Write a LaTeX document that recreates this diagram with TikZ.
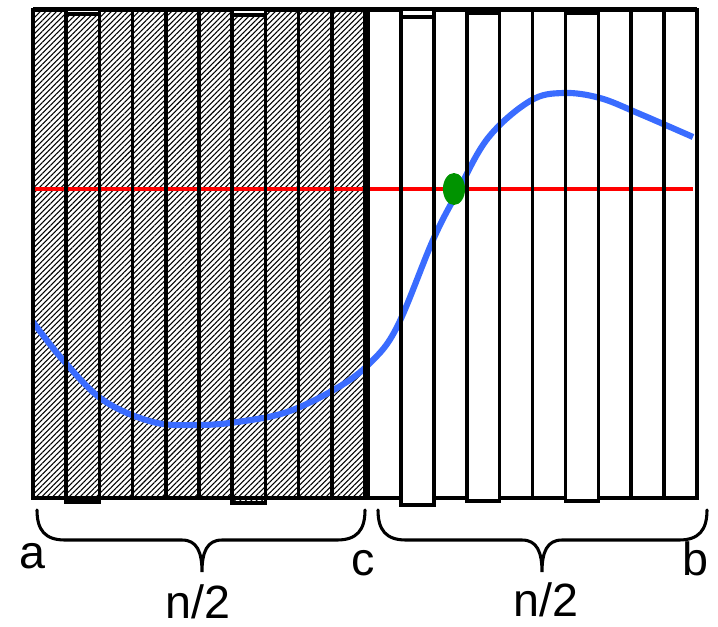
\documentclass[tikz,border=0pt]{standalone}
\usepackage{fontspec}
\setmainfont{Liberation Sans}
\usetikzlibrary{patterns.meta}
\definecolor{curve}{HTML}{3A6CFF}
\definecolor{root}{HTML}{009300}

\begin{document}
\begin{tikzpicture}[x=0.75pt,y=-0.75pt,line cap=butt,line join=miter]
  \useasboundingbox (0,0) rectangle (718,626);
  \tikzset{strip/.style={draw=black,line width=2.7pt},
    hatch/.style={pattern={Lines[angle=45,distance=2.9pt,line width=0.8pt]}},
    brace/.style={draw=black,line width=2.3pt,line cap=round},
    lbl/.style={font=\fontsize{35}{40}\selectfont,inner sep=0pt,anchor=base}}

  % Hatched half a..c: pattern first, outlines later.
  \foreach \i/\dy in {0/0,1/4,2/0,3/0,4/0,5/0,6/5,7/0,8/0,9/0}{
    \fill[hatch] ({33+33.2*\i},{10+\dy}) rectangle ++(33.2,488);
  }

  % Level line, function and its crossing.
  \draw[red,line width=3.4pt] (33,189) -- (693,189);
  \draw[curve,line width=4.6pt,line cap=butt] plot[smooth,tension=0.6] coordinates {
    (33,322) (63,360) (103,400) (153,422) (197,425) (237,422) (287,412)
    (337,388) (370,363) (397,327) (433,240) (457,193) (488,138)
    (530,101) (563,93) (600,98) (640,114) (693,137)};
  \fill[root] (454,189) ellipse [x radius=8.3pt, y radius=12pt];

  % Strip outlines on top.
  \foreach \i/\dy in {0/0,1/4,2/0,3/0,4/0,5/0,6/5,7/0,8/0,9/0}{
    \draw[strip] ({33+33.2*\i},{10+\dy}) rectangle ++(33.2,488);
  }
  \foreach \i/\dy in {0/0,1/7,2/0,3/3,4/0,5/0,6/3,7/0,8/0,9/0}{
    \draw[strip] ({368+32.9*\i},{10+\dy}) rectangle ++(32.9,488);
  }
  \draw[strip] (33,9) -- (697,9);
  \draw[strip] (33,498) -- (365,498);

  % Curly brackets under the halves.
  \newcommand{\bracket}[3]{%
    \draw[brace] (#1,510) .. controls (#1,530) and ({#1+8},540) .. ({#1+28},540)
      -- ({#3-20},540) .. controls ({#3-5},540) and (#3,552) .. (#3,572)
      .. controls (#3,552) and ({#3+5},540) .. ({#3+20},540)
      -- ({#2-28},540) .. controls ({#2-8},540) and (#2,530) .. (#2,510);}
  \bracket{37}{365}{202}
  \bracket{378}{707}{542}

  \node[lbl] (a) at (32,568) {a};
  \node[lbl] (c) at (363,575) {c};
  \node[lbl] (b) at (695,575) {b};
  \node[lbl] (nleft) at (198,618) {n/2};
  \node[lbl] (nright) at (546,616) {n/2};
\end{tikzpicture}
\end{document}
